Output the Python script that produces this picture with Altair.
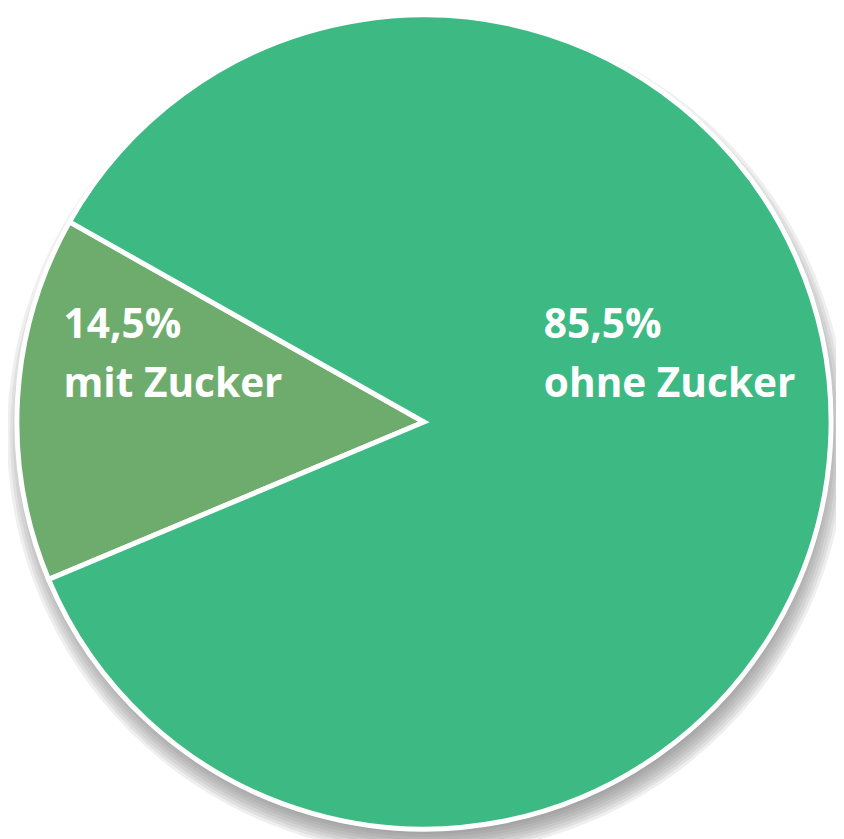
import math
import altair as alt
import pandas as pd

# ---- data ----
categories = ["mit Zucker", "ohne Zucker"]
shares = [14.5, 85.5]
order_idx = [0, 1]
colors = ["#6EAC6E", "#3DBA84"]

df = pd.DataFrame({"kategorie": categories, "anteil": shares, "ord": order_idx})

# ---- geometry (styling) ----
W, H = 836, 831
CX, CY = 420, 414
R = 411
START = math.radians(247.25)

theta_enc = alt.Theta(
    "anteil:Q",
    stack=True,
    scale=alt.Scale(range=[START, START + 2 * math.pi]),
)

base = alt.Chart(df).encode(
    theta=theta_enc,
    order=alt.Order("ord:Q"),
    x=alt.value(CX),
    y=alt.value(CY),
)

# soft drop shadow made of stacked translucent discs
shadow_layers = []
for k in range(10):
    rr = R + 13 - k * 3
    shadow_layers.append(
        alt.Chart(alt.Data(values=[{"s": k}]))
        .mark_arc(theta=0, theta2=2 * math.pi, radius=rr, color="#6f6f6d", opacity=0.11)
        .encode(x=alt.value(CX + 3), y=alt.value(CY + 13))
    )

pie = base.mark_arc(radius=R, stroke="white", strokeWidth=5, strokeJoin="miter").encode(
    color=alt.Color(
        "kategorie:N",
        scale=alt.Scale(domain=categories, range=colors),
        legend=None,
    )
)

label_expr = "replace(format(datum.anteil, '.1f'), '.', ',') + '%' + '\\n' + datum.kategorie"

txt_common = dict(
    align="left",
    baseline="alphabetic",
    font="Open Sans",
    fontWeight="bold",
    fontSize=41,
    lineHeight=60,
    lineBreak="\n",
    color="white",
)

label_small = (
    base.transform_calculate(lbl=label_expr)
    .mark_text(radius=364.6, dy=-64, **txt_common)
    .encode(text=alt.condition(alt.datum.kategorie == categories[0], "lbl:N", alt.value("")))
)
label_big = (
    base.transform_calculate(lbl=label_expr)
    .mark_text(radius=121.2, dy=-92, **txt_common)
    .encode(text=alt.condition(alt.datum.kategorie == categories[1], "lbl:N", alt.value("")))
)

chart = (
    alt.layer(*shadow_layers, pie, label_small, label_big)
    .properties(width=W, height=H, padding=0, autosize=alt.AutoSizeParams(type="none"), background="white")
    .configure_view(stroke=None)
)

chart.save("out.html", embed_options={"renderer": "svg", "actions": False})
